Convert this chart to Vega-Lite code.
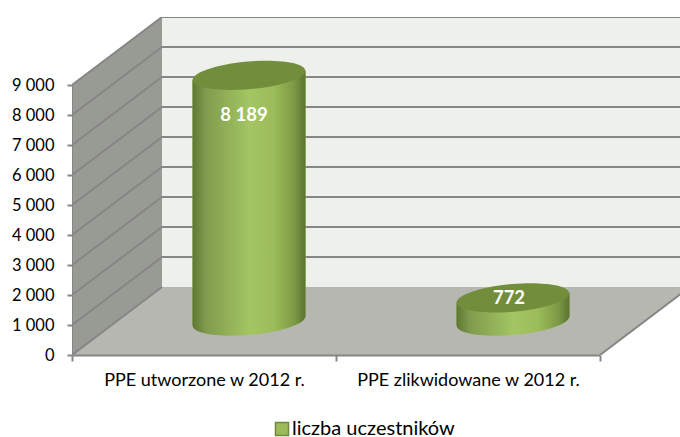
{
"$schema":"https://vega.github.io/schema/vega-lite/v6.json",
"width":608,"height":338,
"autosize":{"type":"none"},
"padding":{"left":72,"top":17,"right":0,"bottom":82},
"background":"white",
"config":{"view":{"stroke":null},"font":"Lato"},
"datasets":{
"kolumny":[
{"kategoria":"PPE utworzone w 2012 r.","seria":"liczba uczestników","wartosc":8189,"etykieta":"8 189","srodek":177},
{"kategoria":"PPE zlikwidowane w 2012 r.","seria":"liczba uczestników","wartosc":772,"etykieta":"772","srodek":441}
],
"boki":[
{"kategoria":"A","seria":"liczba uczestników","x":120.5,"gora":8039,"dol":-150},
{"kategoria":"A","seria":"liczba uczestników","x":233.5,"gora":8339,"dol":150},
{"kategoria":"B","seria":"liczba uczestników","x":384.5,"gora":622,"dol":-150},
{"kategoria":"B","seria":"liczba uczestników","x":497.5,"gora":922,"dol":150}
],
"krawedzie":[
{"id":"k0","x":0,"y":0},{"id":"k0","x":90,"y":2267},
{"id":"k1","x":0,"y":1000},{"id":"k1","x":90,"y":3267},{"id":"k1","x":608,"y":3267},
{"id":"k2","x":0,"y":2000},{"id":"k2","x":90,"y":4267},{"id":"k2","x":608,"y":4267},
{"id":"k3","x":0,"y":3000},{"id":"k3","x":90,"y":5267},{"id":"k3","x":608,"y":5267},
{"id":"k4","x":0,"y":4000},{"id":"k4","x":90,"y":6267},{"id":"k4","x":608,"y":6267},
{"id":"k5","x":0,"y":5000},{"id":"k5","x":90,"y":7267},{"id":"k5","x":608,"y":7267},
{"id":"k6","x":0,"y":6000},{"id":"k6","x":90,"y":8267},{"id":"k6","x":608,"y":8267},
{"id":"k7","x":0,"y":7000},{"id":"k7","x":90,"y":9267},{"id":"k7","x":608,"y":9267},
{"id":"k8","x":0,"y":8000},{"id":"k8","x":90,"y":10267},{"id":"k8","x":608,"y":10267},
{"id":"k9","x":0,"y":9000},{"id":"k9","x":90,"y":11267},{"id":"k9","x":608,"y":11267},
{"id":"os","x":0,"y":0},{"id":"os","x":0,"y":9000},
{"id":"prawa","x":528,"y":0},{"id":"prawa","x":618,"y":2267}
]
},
"resolve":{"scale":{"x":"independent","y":"independent"}},
"layer":[
{
"encoding":{},
"layer":[
{"data":{"values":[{"x":90,"x2":608,"y":2267,"y2":11267}]},
 "mark":{"type":"rect","fill":"#EEF1EB"},
 "encoding":{
  "x":{"field":"x","type":"quantitative","scale":{"domain":[0,608],"nice":false},"axis":null},
  "x2":{"field":"x2"},
  "y":{"field":"y","type":"quantitative","scale":{"domain":[0,11267],"nice":false},
   "axis":{"orient":"left","title":null,"values":[0,1000,2000,3000,4000,5000,6000,7000,8000,9000],"tickCount":20,"labelOverlap":false,"domain":false,"grid":false,"tickSize":5,"tickWidth":2,"tickColor":"#868686","labelPadding":13,"labelFontSize":16.5,"labelColor":"#000000","labelFont":"Lato","labelExpr":"replace(format(datum.value,','),',',' ')"}},
  "y2":{"field":"y2"}}},
{"data":{"values":[{"x":0,"y":0,"y2":9000},{"x":90,"y":2267,"y2":11267}]},
 "mark":{"type":"area","fill":"#989B93"},
 "encoding":{"x":{"field":"x","type":"quantitative"},"y":{"field":"y","type":"quantitative"},"y2":{"field":"y2"}}},
{"data":{"values":[{"y":0,"x":0,"x2":528},{"y":2267,"x":90,"x2":618}]},
 "mark":{"type":"area","orient":"horizontal","fill":"#B5B7B0","clip":true},
 "encoding":{"y":{"field":"y","type":"quantitative"},"x":{"field":"x","type":"quantitative"},"x2":{"field":"x2"}}},
{"data":{"name":"krawedzie"},
 "mark":{"type":"line","stroke":"#868686","strokeWidth":2,"clip":true},
 "encoding":{"x":{"field":"x","type":"quantitative"},"y":{"field":"y","type":"quantitative"},"detail":{"field":"id"}}}
]},
{
"data":{"name":"kolumny"},
"mark":{"type":"rule","opacity":0},
"encoding":{
 "x":{"field":"kategoria","type":"nominal","sort":null,"scale":{"type":"band","range":[0,528],"paddingInner":0,"paddingOuter":0},
  "axis":{"title":null,"orient":"bottom","labelAngle":0,"zindex":1,"domainColor":"#868686","domainWidth":2,"tickColor":"#868686","tickWidth":2,"tickSize":6,"tickBand":"extent","labelPadding":10,"labelFontSize":18,"labelLimit":300,"labelColor":"#000000","labelFont":"Lato"}}
}},
{
"encoding":{},
"layer":[
{"data":{"name":"boki"},
 "mark":{"type":"area"},
 "encoding":{"x":{"field":"x","type":"quantitative","scale":{"domain":[0,608],"nice":false},"axis":null},
  "y":{"field":"gora","type":"quantitative","scale":{"domain":[-1133,10133],"nice":false,"zero":false},"axis":null},
  "y2":{"field":"dol"},"detail":{"field":"kategoria"},
  "color":{"field":"seria","type":"nominal","scale":{"range":["#9BBB59"]},
   "legend":{"title":null,"orient":"none","legendX":200,"legendY":402,"symbolType":"square","symbolSize":170,"symbolStrokeColor":"#71893F","symbolStrokeWidth":1.5,"symbolOpacity":1,"labelFontSize":20,"labelLimit":300,"labelColor":"#000000","labelFont":"Lato","labelOffset":0}}}},
{"data":{"name":"kolumny"},
 "mark":{"type":"point","filled":true,"opacity":1,"angle":355,"size":12769,"shape":"M-1,0C-1,-0.135,-0.5523,-0.245,0,-0.245C0.5523,-0.245,1,-0.135,1,0C1,0.135,0.5523,0.245,0,0.245C-0.5523,0.245,-1,0.135,-1,0Z","fill":{"x1":0,"y1":0,"x2":1,"y2":0,"gradient":"linear","stops":[{"offset":0,"color":"#5E7833"},{"offset":0.12,"color":"#809C4E"},{"offset":0.5,"color":"#A3C562"},{"offset":0.72,"color":"#9BBC59"},{"offset":0.9,"color":"#7C9A45"},{"offset":1,"color":"#5A7430"}]}},
 "encoding":{"x":{"field":"srodek","type":"quantitative"},"y":{"datum":0,"type":"quantitative"}}},
{"data":{"name":"boki"},
 "mark":{"type":"area","fill":{"x1":0,"y1":0,"x2":1,"y2":0,"gradient":"linear","stops":[{"offset":0,"color":"#5E7833"},{"offset":0.12,"color":"#809C4E"},{"offset":0.5,"color":"#A3C562"},{"offset":0.72,"color":"#9BBC59"},{"offset":0.9,"color":"#7C9A45"},{"offset":1,"color":"#5A7430"}]}},
 "encoding":{"x":{"field":"x","type":"quantitative"},"y":{"field":"gora","type":"quantitative"},"y2":{"field":"dol"},"detail":{"field":"kategoria"}}},
{"data":{"name":"kolumny"},
 "mark":{"type":"point","filled":true,"opacity":1,"angle":355,"size":12769,"shape":"M-1,0C-1,-0.135,-0.5523,-0.245,0,-0.245C0.5523,-0.245,1,-0.135,1,0C1,0.135,0.5523,0.245,0,0.245C-0.5523,0.245,-1,0.135,-1,0Z","fill":"#728E3C"},
 "encoding":{"x":{"field":"srodek","type":"quantitative"},"y":{"field":"wartosc","type":"quantitative"}}},
{"data":{"name":"kolumny"},
 "transform":[{"filter":"datum.wartosc > 5000"}],
 "mark":{"type":"text","color":"#FFFFFF","fontWeight":"bold","fontSize":18.5,"font":"Lato","dx":-5,"dy":40},
 "encoding":{"x":{"field":"srodek","type":"quantitative"},"y":{"field":"wartosc","type":"quantitative"},"text":{"field":"etykieta"}}},
{"data":{"name":"kolumny"},
 "transform":[{"filter":"datum.wartosc < 5000"}],
 "mark":{"type":"text","color":"#FFFFFF","fontWeight":"bold","fontSize":18.5,"font":"Lato","dx":-4,"dy":0},
 "encoding":{"x":{"field":"srodek","type":"quantitative"},"y":{"field":"wartosc","type":"quantitative"},"text":{"field":"etykieta"}}}
]}
]
}
